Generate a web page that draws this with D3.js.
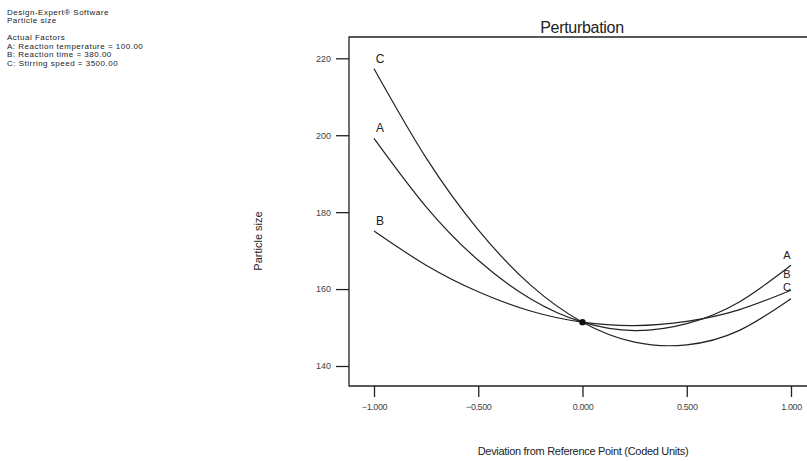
<!DOCTYPE html>
<html><head><meta charset="utf-8">
<script src="https://cdn.jsdelivr.net/npm/d3@7"></script>
<style>
body{margin:0;background:#fff;}
svg{display:block;font-family:"Liberation Sans",Arial,sans-serif;}
</style></head>
<body><svg id="c" width="807" height="461"></svg>
<script>
const xs = [-1, -0.75, -0.5, -0.25, 0, 0.25, 0.5, 0.75, 1];
const seriesA = [199.2, 181.4, 167.5, 157.5, 151.4, 149.2, 151.0, 156.6, 166.2];
const seriesB = [175.1, 166.2, 159.3, 154.3, 151.4, 150.5, 151.6, 154.6, 159.7];
const seriesC = [217.3, 194.1, 175.4, 161.1, 151.4, 146.2, 145.5, 149.2, 157.5];
const seriesNames = ["A", "B", "C"];
const xTicks = [-1, -0.5, 0, 0.5, 1];
const yTicks = [140, 160, 180, 200, 220];
const refPoint = [0, 151.4];
const headerLines = ["Design-Expert\u00AE Software", "Particle size", "", "Actual Factors",
  "A: Reaction temperature = 100.00", "B: Reaction time = 380.00", "C: Stirring speed = 3500.00"];

const svg = d3.select("#c");
const x = d3.scaleLinear().domain([-1, 1]).range([374, 791]);
const y = d3.scaleLinear().domain([140, 220]).range([366, 58.3]);
const box = {left: 349, top: 37, bottom: 386, right: 820};

// header
const hdr = svg.append("text").attr("font-size", 8).attr("fill", "#222").attr("letter-spacing", 0.5);
headerLines.forEach((t, i) => {
  if (t) hdr.append("tspan").attr("x", 7).attr("y", 14.5 + i * 8.5).text(t);
});

// title
svg.append("text").attr("x", 582).attr("y", 33).attr("text-anchor", "middle")
  .attr("font-size", 16).attr("fill", "#222").attr("letter-spacing", -0.3).text("Perturbation");

// frame
svg.append("path").attr("d", `M${box.right},${box.top}H${box.left}V${box.bottom}H${box.right}`)
  .attr("fill", "none").attr("stroke", "#222").attr("stroke-width", 1.3);

// y axis
const yAxis = d3.axisLeft(y).tickValues(yTicks).tickSize(13).tickPadding(5).tickFormat(d3.format("d"));
const gy = svg.append("g").attr("transform", `translate(${box.left},0)`).call(yAxis);
gy.select(".domain").remove();
gy.selectAll("line").attr("stroke", "#222").attr("stroke-width", 1.3);
gy.selectAll("text").attr("font-size", 9).attr("fill", "#444").attr("font-family", "Liberation Sans, Arial");

// x axis
const xAxis = d3.axisBottom(x).tickValues(xTicks).tickSize(11).tickPadding(7).tickFormat(d3.format(".3f"));
const gx = svg.append("g").attr("transform", `translate(0,${box.bottom})`).call(xAxis);
gx.select(".domain").remove();
gx.selectAll("line").attr("stroke", "#222").attr("stroke-width", 1.3);
gx.selectAll("text").attr("font-size", 9).attr("fill", "#444").attr("font-family", "Liberation Sans, Arial")
  .attr("letter-spacing", -0.4);

// axis titles
svg.append("text").attr("x", 583).attr("y", 455).attr("text-anchor", "middle")
  .attr("font-size", 11).attr("fill", "#222").attr("letter-spacing", -0.3)
  .text("Deviation  from Reference Point (Coded Units)");
svg.append("text").attr("transform", "translate(262,241) rotate(-90)").attr("text-anchor", "middle")
  .attr("font-size", 11).attr("fill", "#222").text("Particle size");

// curves
const data = [seriesA, seriesB, seriesC];
const line = d3.line().x((d, i) => x(xs[i])).y(d => y(d)).curve(d3.curveNatural);
data.forEach(s => {
  svg.append("path").attr("d", line(s)).attr("fill", "none").attr("stroke", "#222").attr("stroke-width", 1.2);
});

// labels at left and right ends
data.forEach((s, k) => {
  svg.append("text").attr("x", x(xs[0]) + 6).attr("y", y(s[0]) - 6).attr("text-anchor", "middle")
    .attr("font-size", 12).attr("fill", "#222").text(seriesNames[k]);
});
const rightLbl = [-6.3, -12.2, -7.6];
data.forEach((s, k) => {
  svg.append("text").attr("x", x(xs[xs.length - 1]) - 4).attr("y", y(s[s.length - 1]) + rightLbl[k])
    .attr("text-anchor", "middle").attr("font-size", 11).attr("fill", "#222").text(seriesNames[k]);
});

// reference point
svg.append("circle").attr("cx", x(refPoint[0])).attr("cy", y(refPoint[1])).attr("r", 3.2).attr("fill", "#111");
</script></body></html>
